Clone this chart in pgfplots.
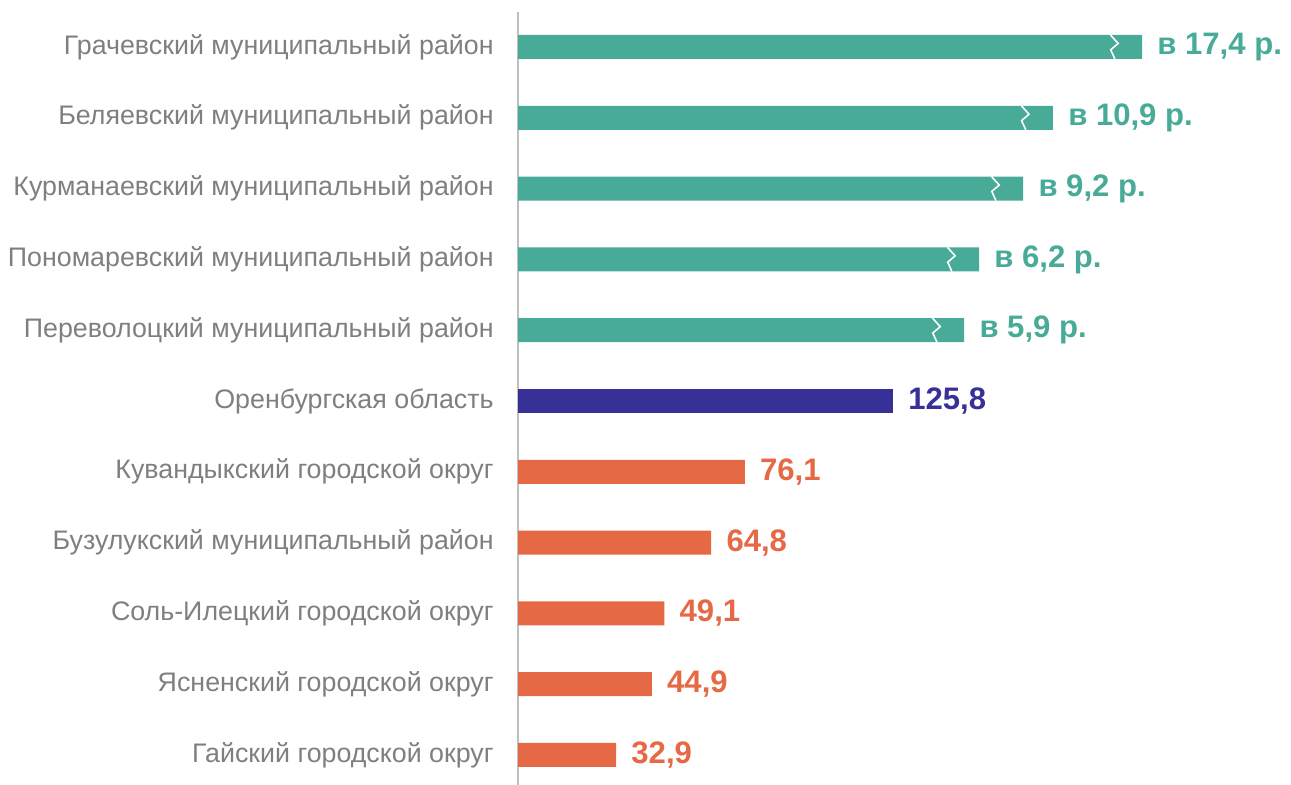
\documentclass[border=0pt]{standalone}
\usepackage{pgfplots}
\pgfplotsset{compat=1.18}
\usepackage{fontspec}
\setmainfont{Liberation Sans}
\definecolor{cteal}{RGB}{71,171,152}
\definecolor{cnavy}{RGB}{55,48,150}
\definecolor{corange}{RGB}{230,105,70}
\definecolor{cgray}{RGB}{127,127,127}
\definecolor{caxis}{RGB}{191,191,191}
\begin{document}
\begin{tikzpicture}
\begin{axis}[
  at={(259bp,0bp)}, anchor=south west,
  scale only axis, width=386.5bp, height=386.5bp,
  xbar, bar width=12bp, bar shift=0pt,
  xmin=0, xmax=259.4, ymin=-0.494, ymax=10.424,
  y dir=reverse, enlargelimits=false, clip=false,
  axis x line=none, axis y line=left,
  y axis line style={-, draw=caxis, line width=1pt},
  xtick=\empty, ytick={0,...,10}, major tick length=0pt,
  yticklabels={{Грачевский муниципальный район},{Беляевский муниципальный район},{Курманаевский муниципальный район},{Пономаревский муниципальный район},{Переволоцкий муниципальный район},{Оренбургская область},{Кувандыкский городской округ},{Бузулукский муниципальный район},{Соль-Илецкий городской округ},{Ясненский городской округ},{Гайский городской округ}},
  yticklabel style={font=\fontsize{13.45}{16}\selectfont, text=cgray, anchor=east, inner sep=0pt, xshift=-12bp},
  point meta=explicit symbolic,
  nodes near coords,
  nodes near coords style={font=\bfseries\fontsize{15.6}{18}\selectfont, anchor=west, inner sep=0pt, xshift=7.5bp},
]
\addplot[draw=none, fill=cteal, bar shift=0pt, nodes near coords style={text=cteal}] coordinates {
(209.4,0) [в 17,4 р.]
(179.5,1) [в 10,9 р.]
(169.5,2) [в 9,2 р.]
(154.7,3) [в 6,2 р.]
(149.7,4) [в 5,9 р.]
};
\addplot[draw=none, fill=cnavy, bar shift=0pt, nodes near coords style={text=cnavy}] coordinates {
(125.8,5) [125,8]
};
\addplot[draw=none, fill=corange, bar shift=0pt, nodes near coords style={text=corange}] coordinates {
(76.1,6) [76,1]
(64.8,7) [64,8]
(49.1,8) [49,1]
(44.9,9) [44,9]
(32.9,10) [32,9]
};
\draw[white, line width=0.8pt] (axis cs:198.8,-0.17) -- (axis cs:201.4,-0.05) -- (axis cs:198.9,0.04) -- (axis cs:200.3,0.17);
\draw[white, line width=0.8pt] (axis cs:168.9,0.83) -- (axis cs:171.5,0.95) -- (axis cs:169.0,1.04) -- (axis cs:170.4,1.17);
\draw[white, line width=0.8pt] (axis cs:158.9,1.83) -- (axis cs:161.5,1.95) -- (axis cs:159.0,2.04) -- (axis cs:160.4,2.17);
\draw[white, line width=0.8pt] (axis cs:144.1,2.83) -- (axis cs:146.7,2.95) -- (axis cs:144.2,3.04) -- (axis cs:145.6,3.17);
\draw[white, line width=0.8pt] (axis cs:139.1,3.83) -- (axis cs:141.7,3.95) -- (axis cs:139.2,4.04) -- (axis cs:140.6,4.17);
\end{axis}
\pgfresetboundingbox
\path[use as bounding box] (0,0) rectangle (645.5bp,392.5bp);
\end{tikzpicture}
\end{document}
